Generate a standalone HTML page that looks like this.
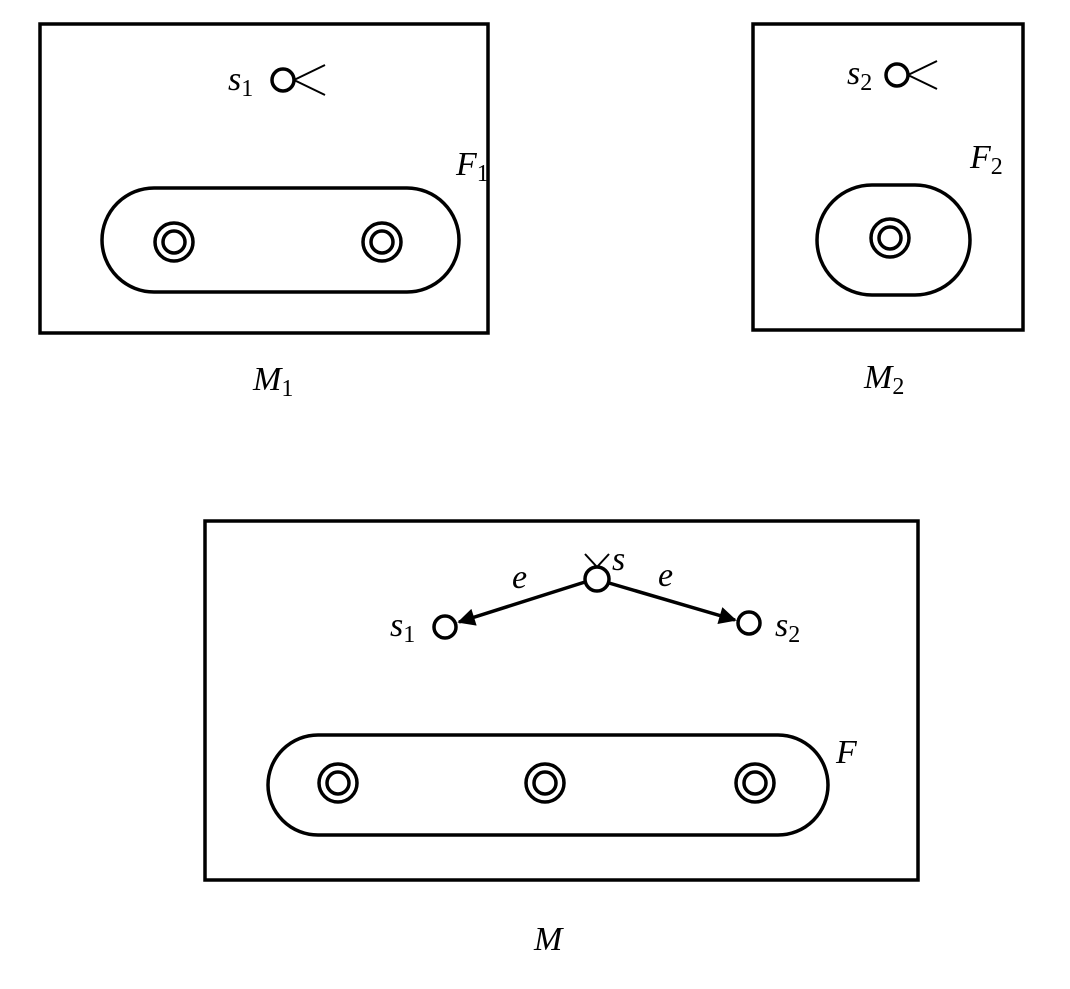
<!DOCTYPE html>
<html><head><style>body{margin:0;background:#fff}</style></head><body>
<svg width="1070" height="984" viewBox="0 0 1070 984" xmlns="http://www.w3.org/2000/svg" font-family="Liberation Serif, serif" font-style="italic" font-size="34">
<defs><marker id="a" viewBox="0 0 10 10" refX="9" refY="5" markerWidth="7" markerHeight="5" orient="auto" markerUnits="strokeWidth"><path d="M0,0L10,5L0,10z"/></marker>
<g id="dc" fill="none" stroke="#000" stroke-width="3.5"><circle r="19"/><circle r="11"/></g></defs>
<g fill="none" stroke="#000" stroke-width="3.5">
<rect x="40" y="24" width="448" height="309"/>
<rect x="102" y="188" width="357" height="104" rx="52"/>
<circle cx="283" cy="80" r="11"/>
<path d="M294,80L325,65M294,80L325,95" stroke-width="2"/>
<rect x="753" y="24" width="270" height="306"/>
<rect x="817" y="185" width="153" height="110" rx="55"/>
<circle cx="897" cy="75" r="11"/>
<path d="M908,75L937,61M908,75L937,89" stroke-width="2"/>
<rect x="205" y="521" width="713" height="359"/>
<rect x="268" y="735" width="560" height="100" rx="50"/>
<circle cx="597" cy="579" r="12"/>
<path d="M585,554L597,567M609,554L597,567" stroke-width="2"/>
<circle cx="445" cy="627" r="11"/>
<circle cx="749" cy="623" r="11"/>
<path d="M585,582L459,622" marker-end="url(#a)"/>
<path d="M609,583L735,620" marker-end="url(#a)"/>
</g>
<use href="#dc" x="174" y="242"/><use href="#dc" x="382" y="242"/>
<use href="#dc" x="890" y="238"/>
<use href="#dc" x="338" y="783"/><use href="#dc" x="545" y="783"/><use href="#dc" x="755" y="783"/>
<text x="228" y="90">s<tspan font-style="normal" font-size="24" dy="6">1</tspan></text>
<text x="456" y="175">F<tspan font-style="normal" font-size="24" dy="6">1</tspan></text>
<text x="253" y="390">M<tspan font-style="normal" font-size="24" dy="6">1</tspan></text>
<text x="847" y="84">s<tspan font-style="normal" font-size="24" dy="6">2</tspan></text>
<text x="970" y="168">F<tspan font-style="normal" font-size="24" dy="6">2</tspan></text>
<text x="864" y="388">M<tspan font-style="normal" font-size="24" dy="6">2</tspan></text>
<text x="612" y="570">s</text>
<text x="512" y="588">e</text>
<text x="658" y="586">e</text>
<text x="390" y="636">s<tspan font-style="normal" font-size="24" dy="6">1</tspan></text>
<text x="775" y="636">s<tspan font-style="normal" font-size="24" dy="6">2</tspan></text>
<text x="836" y="763">F</text>
<text x="534" y="950">M</text>
</svg>
</body></html>
